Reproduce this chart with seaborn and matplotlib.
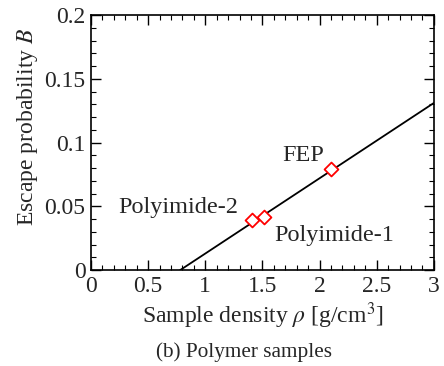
import pandas as pd
import matplotlib
matplotlib.use("Agg")
import matplotlib.pyplot as plt
import seaborn as sns
from matplotlib.ticker import MultipleLocator

# sample data
samples = ["Polyimide-2", "Polyimide-1", "FEP"]
density = [1.41, 1.51, 2.10]
escape_b = [0.039, 0.042, 0.079]

# fitted line end points
fit_x = [0.78, 3.0]
fit_y = [0.0, 0.131]

df_pts = pd.DataFrame({"Sample": samples, "rho": density, "B": escape_b})
df_fit = pd.DataFrame({"rho": fit_x, "B": fit_y})

sns.set_theme(style="ticks")
plt.rcParams["font.family"] = ["Liberation Serif", "DejaVu Serif"]
plt.rcParams["mathtext.fontset"] = "stix"

fig = plt.figure(figsize=(4.44, 3.66), dpi=100)
ax = fig.add_axes([0.205, 0.262, 0.772, 0.697])

sns.lineplot(data=df_fit, x="rho", y="B", color="black", lw=1.3, ax=ax)
sns.scatterplot(data=df_pts, x="rho", y="B", marker="D", s=50,
                facecolor="white", edgecolor="red", linewidth=1.3, ax=ax, zorder=3)

ax.text(1.86, 0.090, "FEP", fontsize=17.5, ha="center", va="center")
ax.text(0.76, 0.049, "Polyimide-2", fontsize=17.5, ha="center", va="center")
ax.text(2.13, 0.0275, "Polyimide-1", fontsize=17.5, ha="center", va="center")

ax.set_xlim(0, 3)
ax.set_ylim(0, 0.2)
ax.xaxis.set_major_locator(MultipleLocator(0.5))
ax.xaxis.set_minor_locator(MultipleLocator(0.1))
ax.yaxis.set_major_locator(MultipleLocator(0.05))
ax.yaxis.set_minor_locator(MultipleLocator(0.01))
ax.set_xticks([0, 0.5, 1, 1.5, 2, 2.5, 3])
ax.set_xticklabels(["0", "0.5", "1", "1.5", "2", "2.5", "3"])
ax.set_yticks([0, 0.05, 0.1, 0.15, 0.2])
ax.set_yticklabels(["0", "0.05", "0.1", "0.15", "0.2"])
ax.tick_params(which="both", direction="in", top=True, right=True, labelsize=17, color="black")
ax.tick_params(which="major", length=7, width=1, pad=4)
ax.tick_params(which="minor", length=3.5, width=0.8)
for sp in ax.spines.values():
    sp.set_linewidth(1.2)
    sp.set_color("black")

ax.set_xlabel(r"Sample density $\rho$ [g/cm$^3$]", fontsize=17, labelpad=3)
ax.set_ylabel(r"Escape probability $B$", fontsize=17)
ax.yaxis.set_label_coords(-0.15, 0.56)
fig.text(0.55, 0.038, "(b) Polymer samples", fontsize=15.3, ha="center", va="center")

plt.savefig("out.png", dpi=100)
